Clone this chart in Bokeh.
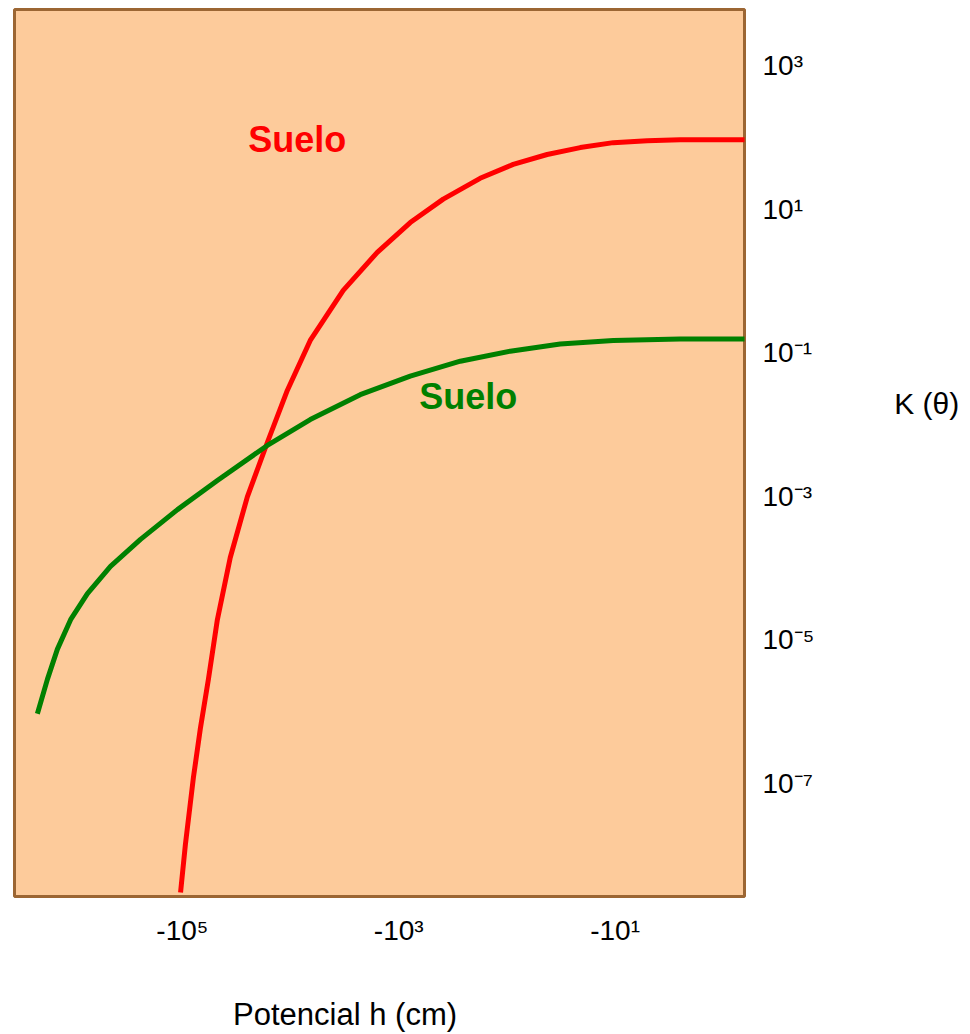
from bokeh.plotting import figure
from bokeh.models import Range1d, FixedTicker, CustomJSTickFormatter
from bokeh.core.properties import value
from bokeh.embed import file_html
from bokeh.resources import INLINE

# Suelo (red) : potencial h (cm) and K(theta)
h_red = [-1.04e5, -9.38e4, -7.91e4, -6.82e4, -5.75e4, -4.75e4, -3.61e4, -2.51e4,
         -1.64e4, -1.07e4, -6.58e3, -3.26e3, -1.58e3, -7.83e2, -3.88e2, -1.77e2,
         -87.5, -42.5, -21.0, -10.4, -5.06, -2.51, -0.617]
k_red = [3.0e-9, 1.4e-8, 1.2e-7, 5.8e-7, 2.8e-6, 1.9e-5, 1.4e-4, 9.8e-4,
         5.6e-3, 3.0e-2, 0.148, 0.74, 2.5, 6.5, 13.8, 26.9,
         42.0, 57.7, 72.1, 84.5, 90.0, 93.0, 93.0]

# Suelo (green)
h_green = [-2.19e6, -1.77e6, -1.43e6, -1.08e6, -7.55e5, -4.62e5, -2.44e5, -1.11e5,
           -4.75e4, -1.64e4, -6.58e3, -2.27e3, -783.0, -270.0, -93.3, -32.2,
           -10.4, -2.51, -0.60]
k_green = [9.3e-7, 2.8e-6, 7.4e-6, 1.9e-5, 4.4e-5, 1.05e-4, 2.5e-4, 6.5e-4,
           1.66e-3, 5.1e-3, 1.17e-2, 2.6e-2, 4.7e-2, 7.6e-2, 0.105, 0.132,
           0.148, 0.155, 0.155]

x_ticks = [1e5, 1e3, 1e1]          # |h| at ticks, labelled -10^n
y_ticks = [1e3, 1e1, 1e-1, 1e-3, 1e-5, 1e-7]
x_label = "Potencial h (cm)"
y_label = "K (\u03b8)"

FONT = "Liberation Sans"
NBSP = "\u00a0"

p = figure(width=968, height=1034, x_axis_type="log", y_axis_type="log",
           y_axis_location="right",
           x_range=Range1d(10 ** 6.552, 10 ** -0.196),
           y_range=Range1d(10 ** -8.578, 10 ** 3.782),
           output_backend="svg", toolbar_location=None,
           min_border_left=14, min_border_right=224,
           min_border_top=9, min_border_bottom=132)

p.background_fill_color = "#FDCB9B"
p.border_fill_color = "white"
p.outline_line_color = "#9C6633"
p.outline_line_width = 3
p.grid.visible = False

sup_js = """
const sup = {"-":"\u207B","0":"\u2070","1":"\u00B9","2":"\u00B2","3":"\u00B3",
             "4":"\u2074","5":"\u2075","6":"\u2076","7":"\u2077","8":"\u2078","9":"\u2079"};
const e = Math.round(Math.log10(tick));
return PREFIX + String(e).split("").map(c => sup[c]).join("");
"""

for ax, ticks, prefix in ((p.xaxis[0], x_ticks, '"-10"'), (p.yaxis[0], y_ticks, '"10"')):
    ax.ticker = FixedTicker(ticks=ticks, minor_ticks=[])
    ax.formatter = CustomJSTickFormatter(code=sup_js.replace("PREFIX", prefix))
    ax.axis_line_color = None
    ax.major_tick_line_color = None
    ax.minor_tick_line_color = None
    ax.major_tick_out = 0
    ax.major_tick_in = 0
    ax.major_label_text_font = FONT
    ax.major_label_text_font_size = "28px"
    ax.major_label_text_color = "black"
    ax.axis_label_text_font = FONT
    ax.axis_label_text_font_style = "normal"
    ax.axis_label_text_color = "black"

p.xaxis[0].major_label_standoff = 18
p.yaxis[0].major_label_standoff = 18

# axis labels; trailing blank space moves the visible text to where the reference has it
p.xaxis[0].axis_label = x_label + NBSP * 8
p.xaxis[0].axis_label_text_font_size = "31px"
p.xaxis[0].axis_label_standoff = 48
p.yaxis[0].axis_label = y_label + ("\n" + NBSP) * 2
p.yaxis[0].axis_label_text_font_size = "30px"
p.yaxis[0].axis_label_text_line_height = 1.5
p.yaxis[0].axis_label_orientation = "horizontal"
p.yaxis[0].axis_label_standoff = 77

xs_red = [-v for v in h_red]
xs_green = [-v for v in h_green]
p.line(xs_red, k_red, line_color="#FF0000", line_width=5, line_join="round")
p.line(xs_green, k_green, line_color="#008000", line_width=5, line_join="round")

p.text(x=[8670], y=[61.5], text=["Suelo"], text_color="#FF0000",
       text_font=value(FONT), text_font_size="36px", text_font_style="bold",
       text_align="center", text_baseline="alphabetic", y_offset=-13)
p.text(x=[228], y=[0.016], text=["Suelo"], text_color="#008000",
       text_font=value(FONT), text_font_size="36px", text_font_style="bold",
       text_align="center", text_baseline="alphabetic", y_offset=-13)

open("out.html", "w").write(file_html(p, INLINE))
